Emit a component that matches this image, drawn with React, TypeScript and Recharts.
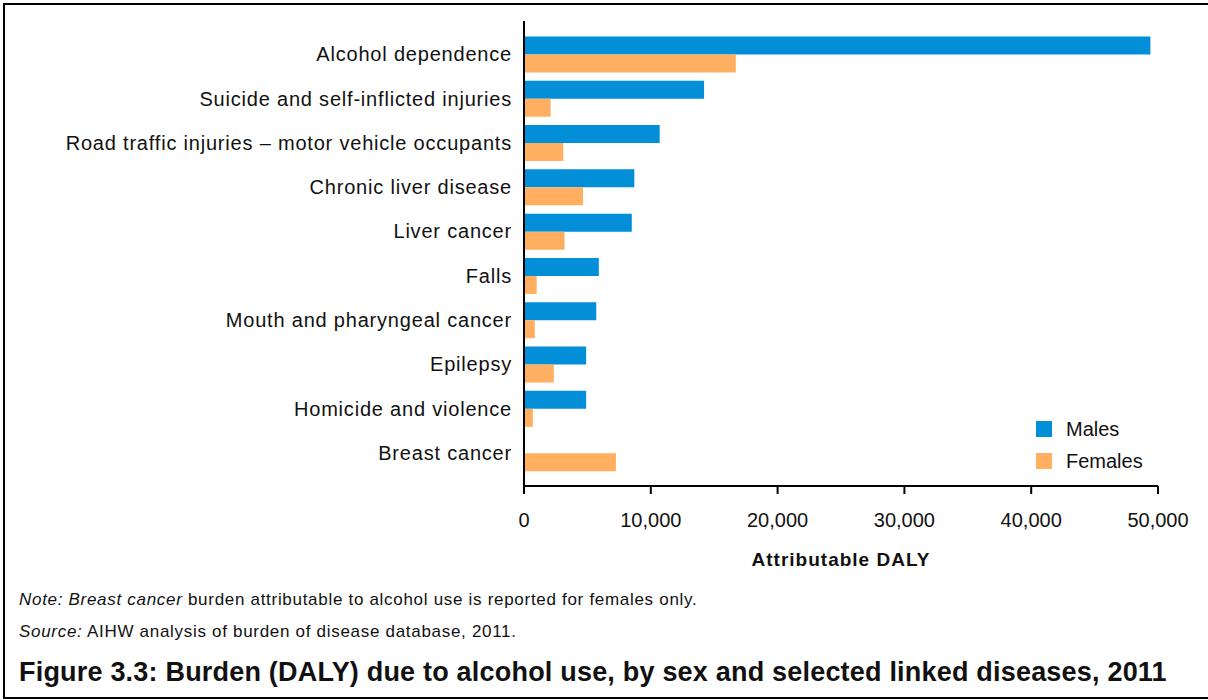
import React from 'react';
import {BarChart, Bar, XAxis, YAxis} from 'recharts';

// Attributable DALY by linked disease
const diseases = [
    'Alcohol dependence',
    'Suicide and self-inflicted injuries',
    'Road traffic injuries – motor vehicle occupants',
    'Chronic liver disease',
    'Liver cancer',
    'Falls',
    'Mouth and pharyngeal cancer',
    'Epilepsy',
    'Homicide and violence',
    'Breast cancer',
];
const males = [49400, 14200, 10700, 8700, 8500, 5900, 5700, 4900, 4900, 0];
const females = [16700, 2100, 3100, 4650, 3200, 1000, 850, 2350, 700, 7250];
const xTicks = [0, 10000, 20000, 30000, 40000, 50000];

const chartData = diseases.map((name, i) => ({name, males: males[i], females: females[i]}));

const FONT = '"Liberation Sans", Arial, sans-serif';
const BLUE = '#038ed8';
const ORANGE = '#ffaf5f';

const series = [
    {key: 'males', name: 'Males', color: BLUE},
    {key: 'females', name: 'Females', color: ORANGE},
];

const App: React.FC = () => {
    return (
        <div style={{position: 'absolute', left: 0, top: 0, width: 1208, height: 700, background: '#fff', fontFamily: FONT, overflow: 'hidden'}}>
            <div style={{position: 'absolute', left: 3, top: 3, width: 1205, height: 696, borderTop: '2px solid #000', borderLeft: '2px solid #000', borderBottom: '2px solid #000', boxSizing: 'border-box'}}/>
            <div style={{position: 'absolute', left: 0, top: 0}}>
                <BarChart
                    width={1208}
                    height={576}
                    layout="vertical"
                    data={chartData}
                    margin={{top: 21, right: 50, left: 0, bottom: 0}}
                    barGap={0}
                    barCategoryGap="10%"
                >
                    <XAxis
                        type="number"
                        domain={[0, 50000]}
                        ticks={xTicks}
                        height={90}
                        axisLine={{stroke: '#000', strokeWidth: 2}}
                        tickLine={{stroke: '#000', strokeWidth: 2}}
                        tickSize={8}
                        tickMargin={19}
                        tick={{fontSize: 20, fill: '#111', fontFamily: FONT}}
                        tickFormatter={(v: number) => v.toLocaleString('en-US')}
                        label={{value: 'Attributable DALY', position: 'insideBottom', offset: 10, style: {fontSize: 19, fontWeight: 'bold', fill: '#111', letterSpacing: 1, fontFamily: FONT}}}
                    />
                    <YAxis
                        type="category"
                        dataKey="name"
                        width={524}
                        padding={{top: 11, bottom: 11}}
                        axisLine={{stroke: '#000', strokeWidth: 2}}
                        tickLine={false}
                        tickSize={0}
                        tickMargin={12}
                        interval={0}
                        tick={{fontSize: 20, fill: '#111', fontFamily: FONT, letterSpacing: 0.8}}
                    />
                    {series.map(s => (
                        <Bar key={s.key} dataKey={s.key} name={s.name} fill={s.color} isAnimationActive={false}/>
                    ))}
                </BarChart>
            </div>
            {/* legend */}
            <div style={{position: 'absolute', left: 1036, top: 413, fontSize: 20, color: '#111'}}>
                {series.map(s => (
                    <div key={s.key} style={{display: 'flex', alignItems: 'center', height: 32}}>
                        <span style={{width: 16, height: 16, background: s.color, display: 'inline-block', marginRight: 14}}/>
                        <span>{s.name}</span>
                    </div>
                ))}
            </div>
            <div style={{position: 'absolute', left: 19, top: 590, fontSize: 17, letterSpacing: 0.7, color: '#111', whiteSpace: 'nowrap'}}>
                <i>Note: Breast cancer</i> burden attributable to alcohol use is reported for females only.
            </div>
            <div style={{position: 'absolute', left: 19, top: 622, fontSize: 17, letterSpacing: 0.7, color: '#111', whiteSpace: 'nowrap'}}>
                <i>Source:</i> AIHW analysis of burden of disease database, 2011.
            </div>
            <div style={{position: 'absolute', left: 19, top: 657, fontSize: 27, letterSpacing: 0.2, fontWeight: 'bold', color: '#111', whiteSpace: 'nowrap'}}>
                Figure 3.3: Burden (DALY) due to alcohol use, by sex and selected linked diseases, 2011
            </div>
        </div>
    );
};

export default App;
